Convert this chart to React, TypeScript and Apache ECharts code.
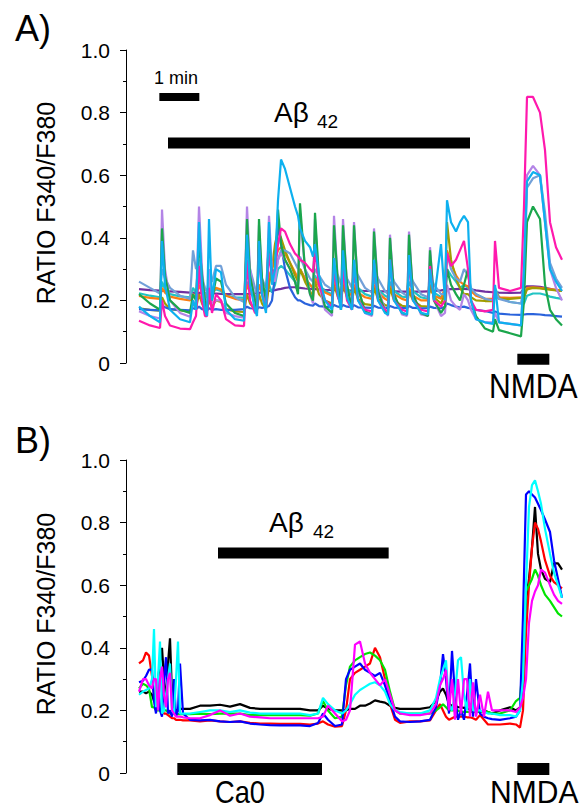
import React, { useEffect, useRef } from "react";
import * as echarts from "echarts";

// ---------- Panel A (time in seconds, ratio F340/F380) ----------
const timeA = [
  19.5, 36, 51, 54, 58.5, 66, 81, 96, 100.5, 105,
  109.5, 114, 118.5, 121.5, 124.5, 129, 135, 142.5, 150, 163.5,
  177, 181.5, 186, 193.5, 196.5, 199.5, 204, 210, 214.5, 219,
  223.5, 228, 232.5, 238.5, 246, 253.5, 258, 261, 268.5, 276,
  280.5, 283.5, 289.5, 298.5, 309, 312, 318, 322.5, 325.5, 331.5,
  339, 342, 348, 358.5, 369, 372, 378, 388.5, 393, 396,
  402, 414, 421.5, 424.5, 430.5, 442.5, 453, 456, 462, 472.5,
  478.5, 481.5, 487.5, 495, 501, 507, 513, 517.5, 525, 538.5,
  550.5, 553.5, 559.5, 576, 592.5, 597, 601.5, 610.5, 621, 628.5,
  636, 645, 654,
];
const purpleA = [
  .236, .233, .231, .231, .23, .229, .227, .225, .225, .224,
  .224, .224, .223, .223, .223, .222, .222, .221, .22, .22,
  .22, .22, .221, .222, .223, .224, .226, .228, .23, .232,
  .233, .235, .237, .24, .242, .242, .24, .24, .238, .237,
  .236, .236, .235, .234, .233, .233, .233, .232, .232, .232,
  .231, .231, .231, .23, .23, .23, .229, .229, .229, .229,
  .229, .228, .228, .228, .228, .228, .229, .229, .23, .232,
  .234, .235, .236, .236, .237, .237, .236, .235, .232, .228,
  .226, .226, .225, .224, .225, .24, .245, .245, .243, .24,
  .237, .233, .23,
];
const blueA = [
  .172, .17, .168, .185, .178, .172, .17, .168, .175, .172,
  .18, .172, .17, .168, .175, .17, .172, .17, .17, .17,
  .172, .18, .175, .174, .174, .178, .176, .178, .182, .2,
  .28, .45, .38, .3, .24, .21, .2, .2, .19, .185,
  .183, .19, .182, .18, .178, .185, .18, .178, .185, .18,
  .178, .185, .178, .177, .176, .183, .177, .176, .176, .182,
  .177, .176, .175, .182, .176, .175, .175, .18, .176, .175,
  .18, .19, .185, .18, .178, .18, .176, .174, .17, .166,
  .16, .165, .158, .155, .154, .155, .156, .156, .155, .153,
  .152, .15, .148,
];
const turquoiseA = [
  .223, .215, .21, .26, .235, .22, .213, .21, .24, .225,
  .27, .235, .222, .215, .25, .225, .235, .23, .215, .21,
  .208, .26, .228, .215, .21, .25, .225, .212, .25, .225,
  .25, .3, .31, .3, .28, .26, .25, .3, .27, .25,
  .24, .28, .25, .23, .22, .28, .24, .22, .28, .24,
  .22, .27, .24, .22, .212, .27, .235, .215, .21, .26,
  .23, .212, .21, .26, .23, .21, .205, .25, .225, .21,
  .22, .3, .28, .26, .24, .25, .24, .23, .22, .205,
  .2, .24, .21, .195, .19, .19, .215, .222, .222, .218,
  .212, .208, .205,
];
const orangeA = [
  .214, .208, .205, .24, .225, .212, .205, .2, .22, .21,
  .25, .225, .215, .21, .24, .22, .24, .235, .215, .205,
  .2, .25, .225, .21, .205, .25, .225, .21, .28, .3,
  .33, .36, .37, .35, .32, .29, .27, .3, .27, .25,
  .24, .27, .245, .225, .215, .26, .235, .215, .26, .23,
  .215, .25, .225, .21, .205, .25, .225, .205, .2, .245,
  .22, .205, .2, .24, .215, .2, .2, .24, .215, .205,
  .24, .36, .32, .28, .26, .25, .245, .23, .215, .205,
  .205, .23, .21, .208, .21, .21, .24, .242, .24, .238,
  .236, .234, .232,
];
const oliveA = [
  .175, .17, .167, .21, .19, .172, .168, .165, .19, .175,
  .22, .19, .172, .168, .2, .18, .2, .195, .172, .165,
  .163, .22, .19, .172, .168, .22, .19, .172, .25, .3,
  .38, .42, .4, .36, .32, .28, .26, .3, .26, .23,
  .21, .26, .22, .2, .19, .25, .21, .19, .25, .21,
  .19, .24, .205, .188, .185, .24, .205, .185, .183, .24,
  .2, .183, .18, .23, .2, .182, .18, .25, .21, .19,
  .22, .45, .33, .27, .24, .22, .22, .21, .2, .198,
  .198, .22, .205, .205, .208, .21, .235, .24, .238, .236,
  .234, .232, .23,
];
const steelA = [
  .26, .24, .222, .3, .27, .24, .215, .205, .36, .3,
  .33, .27, .24, .225, .27, .26, .31, .31, .25, .21,
  .195, .38, .3, .24, .22, .33, .27, .24, .38, .3,
  .28, .33, .36, .36, .35, .32, .3, .34, .3, .27,
  .26, .3, .28, .25, .235, .3, .28, .25, .3, .27,
  .24, .3, .28, .24, .225, .3, .27, .23, .22, .3,
  .26, .225, .215, .29, .26, .22, .21, .28, .25, .22,
  .22, .35, .3, .27, .26, .3, .28, .24, .22, .205,
  .2, .23, .205, .195, .19, .25, .56, .59, .6, .48,
  .32, .27, .24,
];
const lavenderA = [
  .165, .15, .142, .49, .3, .2, .16, .148, .2, .18,
  .5, .3, .2, .17, .3, .19, .2, .2, .16, .15,
  .145, .5, .3, .2, .17, .44, .25, .18, .47, .3,
  .26, .33, .35, .33, .3, .26, .23, .48, .3, .22,
  .19, .46, .25, .17, .15, .47, .25, .17, .46, .25,
  .17, .45, .24, .16, .15, .43, .24, .17, .15, .41,
  .22, .155, .15, .42, .22, .155, .15, .37, .2, .15,
  .16, .25, .2, .18, .17, .22, .2, .17, .14, .13,
  .13, .16, .13, .125, .12, .3, .6, .63, .6, .45,
  .3, .24, .2,
];
const greenA = [
  .22, .19, .17, .43, .28, .2, .17, .16, .22, .2,
  .39, .28, .2, .17, .22, .2, .27, .26, .19, .16,
  .15, .46, .28, .2, .17, .46, .27, .2, .4, .28,
  .3, .49, .38, .33, .3, .26, .22, .51, .3, .22,
  .2, .48, .27, .18, .16, .44, .25, .17, .44, .25,
  .17, .44, .24, .165, .155, .42, .23, .165, .155, .4,
  .22, .16, .155, .41, .22, .16, .15, .36, .2, .16,
  .18, .3, .25, .22, .2, .25, .3, .2, .15, .11,
  .1, .14, .105, .095, .085, .2, .45, .5, .46, .25,
  .17, .14, .12,
];
const pinkA = [
  .135, .12, .112, .2, .15, .12, .11, .108, .13, .15,
  .31, .2, .15, .15, .24, .16, .22, .2, .14, .12,
  .118, .33, .2, .16, .16, .37, .22, .17, .35, .28,
  .3, .38, .43, .42, .38, .35, .34, .33, .32, .3,
  .29, .36, .25, .2, .18, .3, .21, .18, .3, .2,
  .17, .31, .2, .17, .165, .32, .2, .17, .165, .33,
  .2, .17, .165, .33, .2, .17, .165, .31, .2, .18,
  .2, .35, .31, .33, .36, .39, .3, .2, .17, .165,
  .17, .39, .24, .23, .24, .5, .85, .85, .8, .68,
  .45, .37, .33,
];
const cyanA = [
  .18, .15, .13, .39, .25, .17, .14, .13, .2, .17,
  .45, .25, .17, .15, .46, .2, .3, .29, .17, .14,
  .135, .41, .25, .17, .15, .39, .22, .16, .45, .25,
  .3, .52, .65, .62, .56, .5, .47, .43, .39, .37,
  .34, .38, .28, .2, .17, .335, .22, .17, .36, .21,
  .17, .33, .2, .16, .155, .33, .2, .16, .155, .33,
  .2, .16, .155, .345, .2, .16, .155, .3, .2, .38,
  .2, .52, .45, .42, .45, .47, .45, .2, .14, .13,
  .125, .25, .13, .125, .12, .3, .58, .61, .6, .45,
  .3, .26, .23,
];

// ---------- Panel B ----------
const timeB = [
  19.5, 25.5, 30, 34.5, 39, 42, 45, 48, 51, 54,
  57, 60, 63, 66, 69, 72, 75, 78, 81, 85.5,
  96, 111, 126, 141, 156, 171, 186, 201, 216, 231,
  246, 261, 276, 288, 295.5, 303, 313.5, 324, 330, 336,
  343.5, 351, 358.5, 366, 373.5, 381, 388.5, 396, 403.5, 411,
  426, 441, 456, 465, 471, 475.5, 480, 484.5, 489, 493.5,
  498, 502.5, 507, 511.5, 516, 520.5, 525, 531, 537, 543,
  549, 561, 576, 585, 591, 595.5, 600, 604.5, 609, 613.5,
  618, 622.5, 628.5, 636, 642, 648, 654,
];
const blackB = [
  .26, .26, .255, .26, .25, .23, .24, .3, .35, .4,
  .3, .22, .35, .43, .25, .21, .2, .2, .205, .205,
  .205, .215, .215, .218, .212, .22, .208, .205, .205, .205,
  .205, .205, .2, .2, .215, .205, .2, .2, .2, .205,
  .205, .215, .215, .222, .232, .228, .225, .215, .208, .205,
  .205, .205, .21, .23, .26, .27, .25, .22, .215, .215,
  .21, .21, .208, .205, .205, .2, .2, .195, .2, .195,
  .19, .2, .21, .2, .21, .25, .55, .62, .72, .85,
  .7, .65, .62, .61, .67, .67, .65,
];
const redB = [
  .35, .36, .385, .375, .31, .25, .22, .21, .2, .2,
  .19, .19, .185, .18, .175, .175, .17, .17, .17, .168,
  .168, .165, .168, .165, .163, .165, .16, .158, .158, .157,
  .157, .157, .155, .158, .165, .155, .148, .15, .2, .3,
  .32, .33, .34, .35, .4, .37, .3, .22, .17, .16,
  .165, .165, .168, .2, .22, .2, .18, .17, .175, .18,
  .18, .18, .18, .178, .178, .175, .17, .185, .17, .155,
  .155, .155, .158, .155, .145, .2, .45, .6, .72, .8,
  .78, .74, .68, .63, .61, .6, .59,
];
const greenB = [
  .27, .285, .28, .27, .21, .21, .2, .2, .2, .2,
  .2, .2, .195, .19, .19, .19, .188, .188, .188, .188,
  .188, .19, .188, .19, .19, .19, .185, .185, .185, .185,
  .185, .185, .183, .19, .23, .2, .175, .18, .28, .34,
  .36, .37, .38, .385, .375, .36, .33, .26, .2, .19,
  .19, .19, .19, .2, .21, .22, .21, .2, .2, .2,
  .2, .195, .195, .195, .195, .195, .195, .195, .195, .195,
  .19, .19, .2, .23, .24, .35, .58, .6, .62, .65,
  .63, .6, .57, .55, .53, .51, .5,
];
const blueB = [
  .29, .295, .31, .33, .33, .23, .19, .3, .2, .18,
  .3, .37, .19, .2, .18, .3, .18, .2, .35, .19,
  .17, .168, .17, .165, .163, .165, .158, .155, .153, .152,
  .152, .152, .15, .16, .19, .17, .15, .155, .3, .33,
  .34, .35, .33, .32, .31, .32, .28, .23, .18, .165,
  .163, .165, .17, .21, .28, .38, .3, .19, .39, .25,
  .17, .2, .17, .25, .35, .18, .3, .19, .18, .175,
  .172, .17, .175, .18, .2, .5, .89, .9, .89, .88,
  .86, .84, .81, .77, .68, .62, .56,
];
const cyanB = [
  .25, .26, .265, .27, .3, .46, .21, .3, .42, .19,
  .2, .25, .3, .35, .2, .19, .3, .42, .19, .19,
  .19, .195, .2, .2, .195, .2, .193, .19, .19, .19,
  .19, .19, .185, .19, .24, .22, .2, .19, .2, .22,
  .25, .265, .275, .285, .29, .28, .26, .22, .2, .195,
  .19, .19, .2, .24, .3, .33, .36, .22, .2, .25,
  .36, .37, .25, .2, .3, .2, .2, .2, .195, .19,
  .19, .185, .185, .18, .2, .3, .6, .85, .92, .935,
  .9, .86, .78, .7, .64, .6, .56,
];
const magentaB = [
  .26, .3, .3, .28, .27, .3, .3, .2, .3, .34,
  .25, .21, .3, .32, .2, .19, .18, .18, .18, .178,
  .175, .175, .185, .2, .183, .19, .18, .178, .175, .175,
  .175, .175, .175, .175, .18, .215, .19, .165, .17, .2,
  .41, .42, .35, .32, .3, .28, .3, .25, .2, .19,
  .185, .185, .19, .22, .28, .3, .33, .2, .3, .17,
  .3, .19, .3, .3, .18, .29, .18, .25, .18, .26,
  .2, .2, .2, .195, .21, .24, .3, .48, .55, .58,
  .6, .65, .64, .6, .57, .55, .54,
];

// Stimulus bars: [start s, end s, level]
const scaleBarA = [50, 110, 0.85];
const abetaBarA = [63, 516, 0.703];
const nmdaBarA = [587, 635, 0.012];
const abetaBarB = [138, 394, 0.703];
const ca0BarB = [77, 294, 0.013];
const nmdaBarB = [587, 635, 0.013];

const yTicks = [0, 0.2, 0.4, 0.6, 0.8, 1.0];

const FONT = "'Liberation Sans', Arial, Helvetica, sans-serif";

export default function App() {
  const ref = useRef<HTMLDivElement>(null);
  useEffect(() => {
    const chart = echarts.init(ref.current!, null, { renderer: "svg" });
    const pair = (t: number[], v: number[]) => t.map((x, i) => [x, v[i]]);

    const traceA: [string, string, number[]][] = [
      ["purple", "#7030a0", purpleA],
      ["turquoise", "#22c4c4", turquoiseA],
      ["orange", "#fb7d12", orangeA],
      ["olive", "#a29c00", oliveA],
      ["blue", "#2a63dc", blueA],
      ["steel", "#72a0d8", steelA],
      ["lavender", "#b384e6", lavenderA],
      ["green", "#1ba64c", greenA],
      ["pink", "#ff19ad", pinkA],
      ["cyan", "#0db0ef", cyanA],
    ];
    const traceB: [string, string, number[]][] = [
      ["black", "#000000", blackB],
      ["red", "#ff0000", redB],
      ["green", "#00e400", greenB],
      ["blue", "#0000ff", blueB],
      ["cyan", "#00ffff", cyanB],
      ["magenta", "#ff00ff", magentaB],
    ];

    const lineSeries = (list: [string, string, number[]][], t: number[], idx: number) =>
      list.map(([name, color, vals]) => ({
        type: "line",
        name: name + idx,
        xAxisIndex: idx,
        yAxisIndex: idx,
        data: pair(t, vals),
        symbol: "none",
        silent: true,
        lineStyle: { color, width: 2.2 },
        itemStyle: { color },
      }));

    const barSeries = (b: number[], idx: number, w: number) => ({
      type: "line",
      xAxisIndex: idx,
      yAxisIndex: idx,
      data: [[b[0], b[2]], [b[1], b[2]]],
      symbol: "none",
      silent: true,
      clip: false,
      lineStyle: { color: "#000", width: w, cap: "butt" },
    });

    const yAxis = (gi: number) => ({
      type: "value",
      gridIndex: gi,
      min: 0,
      max: 1,
      interval: 0.2,
      axisLine: { show: true, lineStyle: { color: "#000", width: 1 } },
      axisTick: { show: true, length: 6, inside: false, lineStyle: { color: "#000" } },
      minorTick: { show: true, splitNumber: 2, length: 3, lineStyle: { color: "#000" } },
      splitLine: { show: false },
      minorSplitLine: { show: false },
      axisLabel: {
        margin: 16,
        fontSize: 21,
        fontFamily: FONT,
        color: "#000",
        formatter: (v: number) => {
          const k = yTicks.findIndex((t) => Math.abs(t - v) < 1e-6);
          if (k < 0) return "";
          return v === 0 ? "0" : v.toFixed(1);
        },
      },
    });
    const xAxis = (gi: number) => ({
      type: "value",
      gridIndex: gi,
      min: 0,
      max: 660,
      show: false,
    });

    const txt = (text: string, x: number, y: number, fs: number, extra: any = {}) => ({
      type: "text",
      x,
      y,
      silent: true,
      ...extra,
      style: {
        text,
        fontSize: fs,
        fontFamily: FONT,
        fill: "#000",
        align: extra.align || "left",
        verticalAlign: "middle",
      },
    });

    const option: any = {
      animation: false,
      backgroundColor: "#fff",
      grid: [
        { left: 126, top: 50, width: 440, height: 313 },
        { left: 126, top: 460, width: 440, height: 313 },
      ],
      xAxis: [xAxis(0), xAxis(1)],
      yAxis: [yAxis(0), yAxis(1)],
      series: [
        ...lineSeries(traceA, timeA, 0),
        ...lineSeries(traceB, timeB, 1),
        barSeries(scaleBarA, 0, 8),
        barSeries(abetaBarA, 0, 11),
        barSeries(nmdaBarA, 0, 11),
        barSeries(abetaBarB, 1, 11),
        barSeries(ca0BarB, 1, 12),
        barSeries(nmdaBarB, 1, 12),
      ],
      graphic: [
        txt("A)", 15, 28, 36),
        txt("B)", 15, 440, 36),
        txt("RATIO F340/F380", 46, 203, 25, { rotation: Math.PI / 2, align: "center" }),
        txt("RATIO F340/F380", 46, 614, 25, { rotation: Math.PI / 2, align: "center" }),
        txt("1 min", 154, 78, 18),
        txt("Aβ", 274, 112, 28),
        txt("42", 317, 121.5, 19),
        txt("Aβ", 269, 522, 28),
        txt("42", 313, 531.5, 19),
        txt("NMDA", 489, 385.5, 35, { scaleX: 0.86 }),
        txt("NMDA", 490, 792, 31, { scaleX: 0.97 }),
        txt("Ca0", 215, 792, 31, { scaleX: 0.88 }),
      ],
    };
    chart.setOption(option);
    return () => chart.dispose();
  }, []);
  return (
    <div
      ref={ref}
      style={{ position: "absolute", left: 0, top: 0, width: 579, height: 810 }}
    />
  );
}
